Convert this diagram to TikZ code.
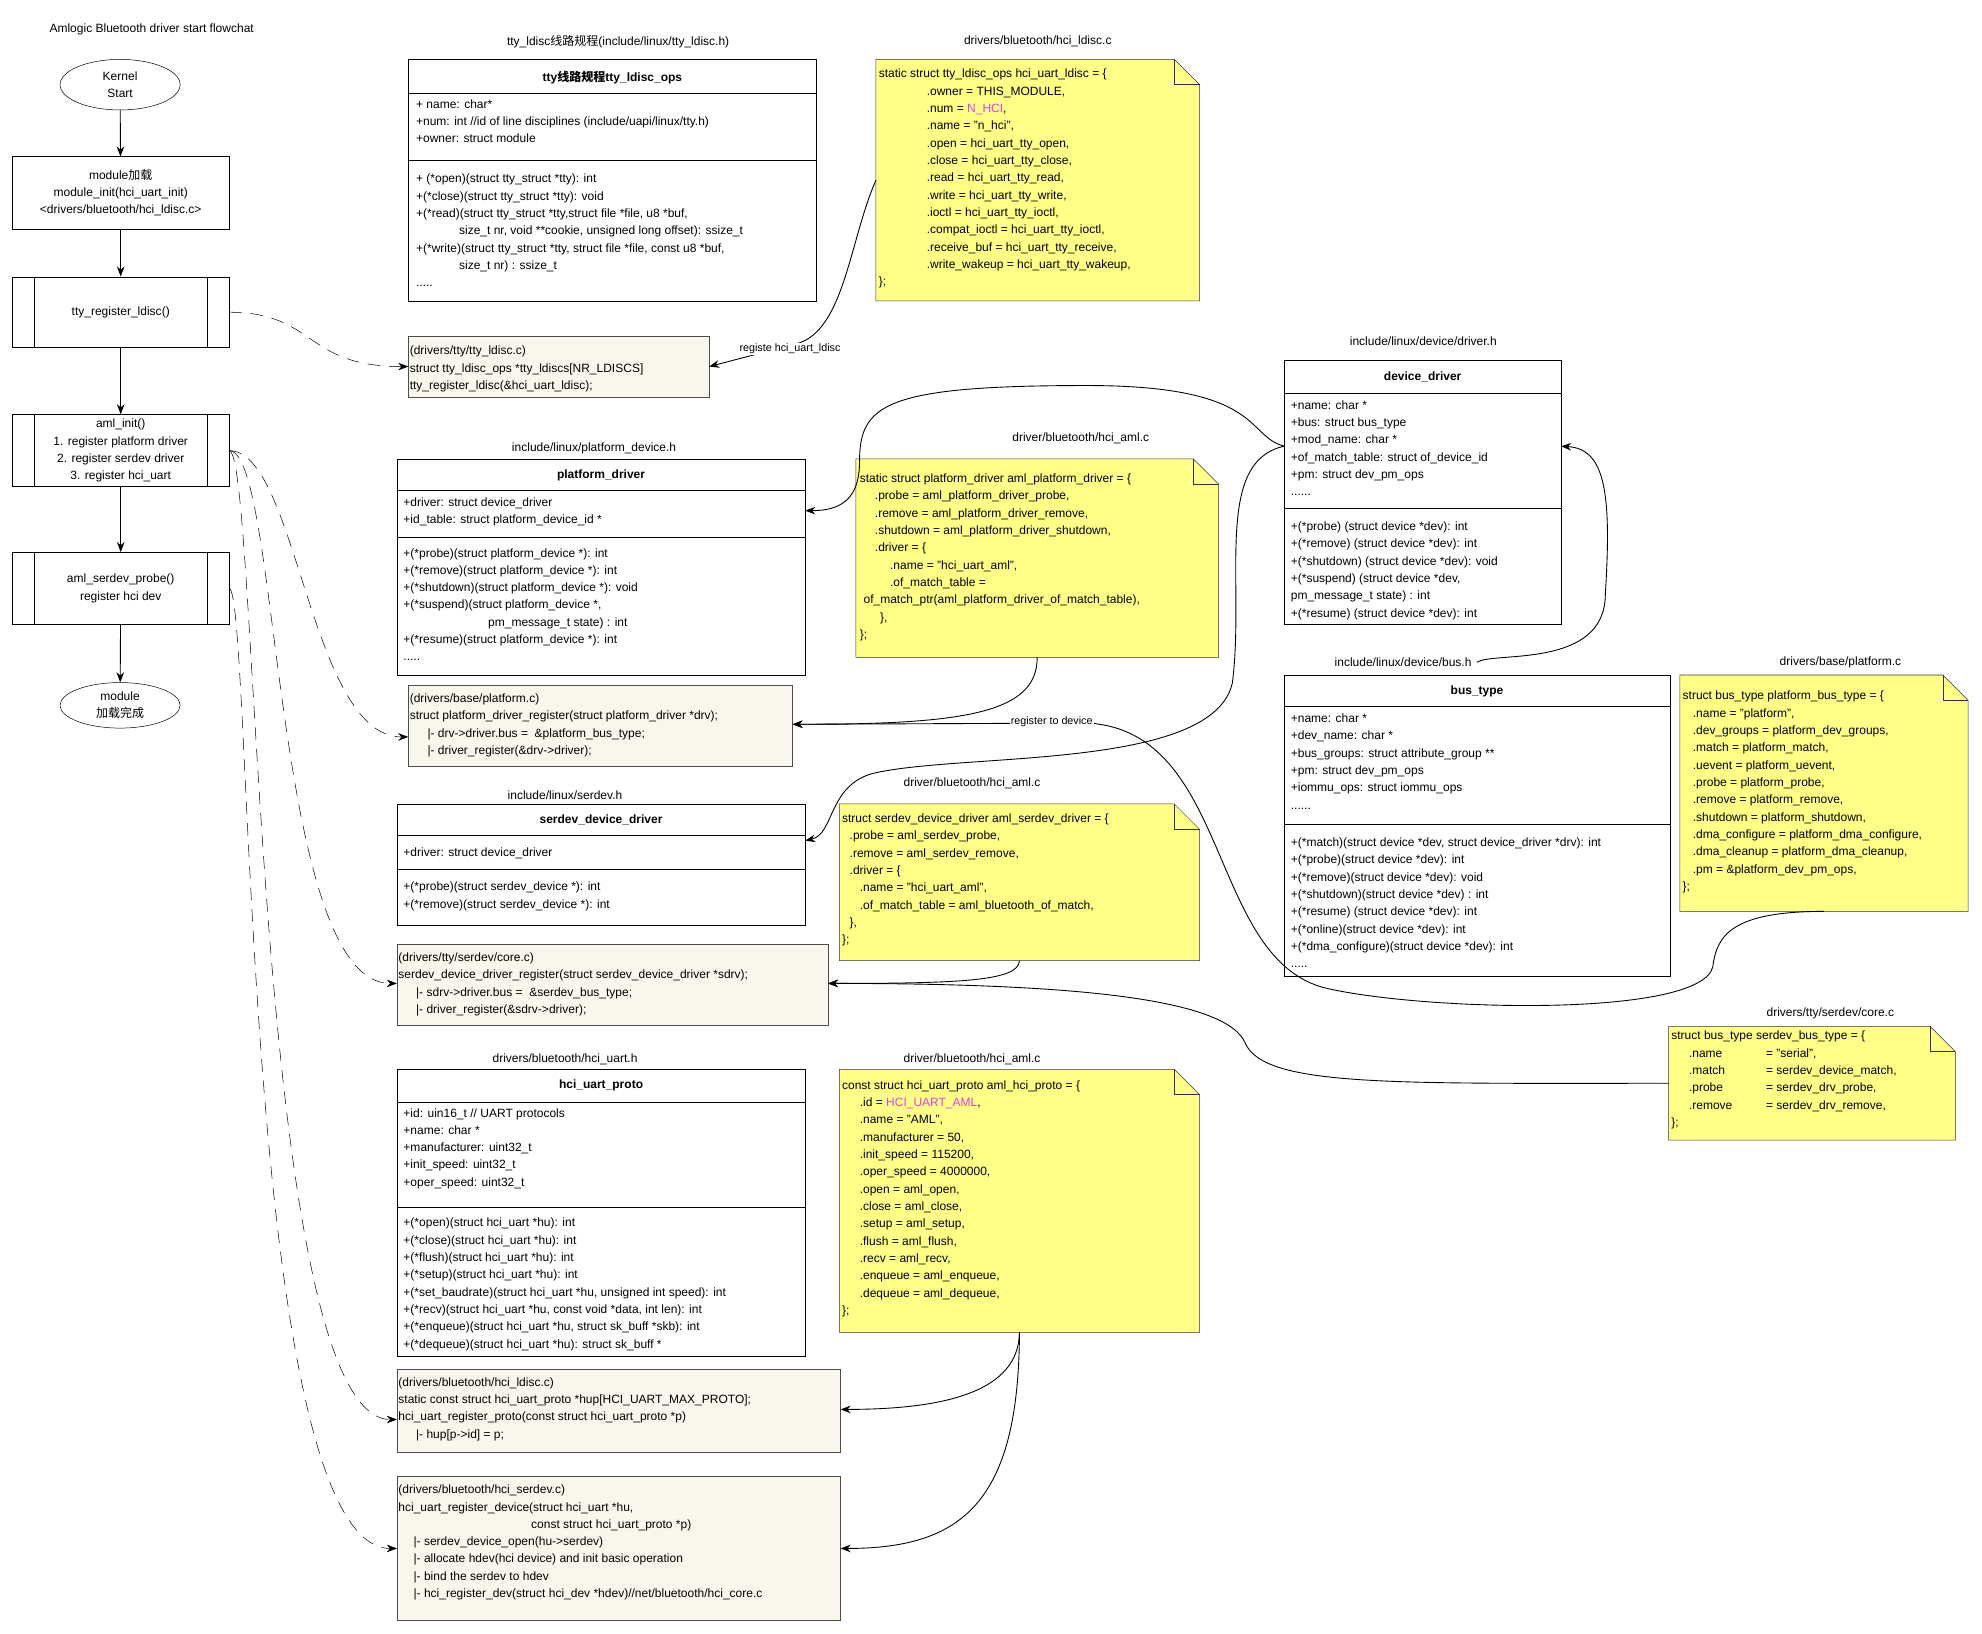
\documentclass[tikz,border=0pt]{standalone}
\usepackage{fontspec}
\setmainfont{Liberation Sans}
\newfontfamily\cjk{Noto Sans CJK SC}
\usetikzlibrary{shapes.geometric,arrows.meta}
\definecolor{notey}{HTML}{FFFF88}
\definecolor{beige}{HTML}{F9F7ED}
\definecolor{mag}{HTML}{E040E0}
\newcommand\ind[1]{\hspace*{#1pt}}
\newcommand\mkbox[6]{\node[#6, anchor=north west, outer sep=0pt, inner sep=0pt, minimum width={#4-#2}, minimum height={#5-#3}] (#1) at (#2,#3) {};}
\newcommand\mknote[5]{\mkbox{#1}{#2}{#3}{#4}{#5}{}%
  \draw[fill=notey, draw=black!80] (#2,#3) -- ({#4-20},#3) -- (#4,{#3+20}) -- (#4,#5) -- (#2,#5) -- cycle;
  \draw[draw=black!80] ({#4-20},#3) -- ({#4-20},{#3+20}) -- (#4,{#3+20});}
\begin{document}
\begin{tikzpicture}[x=1pt,y=-1pt,
  f/.style={font=\fontsize{9.5}{13.7}\selectfont},
  txt/.style={f, align=left, inner sep=0pt, anchor=north west, execute at begin node=\strut},
  lbl/.style={f, inner sep=0pt},
  hdr/.style={font=\fontsize{9.5}{13.7}\selectfont\bfseries, inner sep=0pt},
  wbox/.style={draw, fill=white},
  bbox/.style={draw=black!70, fill=beige},
  fc/.style={draw, f, align=center},
  arr/.style={-{Stealth[length=8pt,width=6pt]}},
  dsh/.style={arr, dash pattern=on 10pt off 7pt},
  con/.style={arr, line width=0.7pt}]
\useasboundingbox (0,0) rectangle (1568,1292);

% ---------- left flowchart ----------
\node[lbl] (title) at (120,23) {Amlogic Bluetooth driver start flowchat};
\node[fc, ellipse, minimum width=95pt, minimum height=40pt, inner sep=0pt] (ks) at (95,67) {Kernel\\Start};
\node[fc, minimum width=171pt, minimum height=57pt, inner sep=0pt] (mod) at (95.5,152.5) {module{\cjk 加载}\\module\_init(hci\_uart\_init)\\<drivers/bluetooth/hci\_ldisc.c>};
\node[fc, minimum width=171pt, minimum height=56pt, inner sep=0pt] (treg) at (95.5,247) {tty\_register\_ldisc()};
\node[fc, minimum width=171pt, minimum height=57pt, inner sep=0pt] (aini) at (95.5,356.5) {aml\_init()\\1. register platform driver\\2. register serdev driver\\3. register hci\_uart};
\node[fc, minimum width=171pt, minimum height=57pt, inner sep=0pt] (prb) at (95.5,465.5) {aml\_serdev\_probe()\\register hci dev};
\node[fc, ellipse, minimum width=95pt, minimum height=36pt, inner sep=0pt] (done) at (95,558) {module\\{\cjk 加载完成}};
\foreach \n in {treg,aini,prb}{
  \draw ([xshift=17pt]\n.north west) -- ([xshift=17pt]\n.south west);
  \draw ([xshift=-17pt]\n.north east) -- ([xshift=-17pt]\n.south east);}
\draw[con] (ks) -- (mod);
\draw[con] (mod) -- (treg);
\draw[con] (treg) -- (aini);
\draw[con] (aini) -- (prb);
\draw[con] (prb) -- (done);

% ---------- tty_ldisc_ops ----------
\node[lbl] (l1) at (489,33) {tty\_ldisc{\cjk 线路规程}(include/linux/tty\_ldisc.h)};
\mkbox{ttyops}{323}{47}{646}{238}{wbox}
\draw (323,74) -- (646,74); \draw (323,127) -- (646,127);
\node[hdr] (ttyopsh) at (484.5,61) {tty{\cjk 线路规程}tty\_ldisc\_ops};
\node[txt] (ttyopsa) at (329,78.6) {+ name: char*\\+num: int //id of line disciplines (include/uapi/linux/tty.h)\\+owner: struct module};
\node[txt] (ttyopso) at (329,137.6) {+ (*open)(struct tty\_struct *tty): int\\+(*close)(struct tty\_struct *tty): void\\+(*read)(struct tty\_struct *tty,struct file *file, u8 *buf,\\\ind{34}size\_t nr, void **cookie, unsigned long offset): ssize\_t\\+(*write)(struct tty\_struct *tty, struct file *file, const u8 *buf,\\\ind{34}size\_t nr) : ssize\_t\\.....};

% ---------- note hci_ldisc ----------
\node[lbl] (l2) at (821,33) {drivers/bluetooth/hci\_ldisc.c};
\mknote{n1}{693}{47}{949}{238}
\node[txt] (n1t) at (695,54.6) {static struct tty\_ldisc\_ops hci\_uart\_ldisc = \{\\\ind{38}.owner = THIS\_MODULE,\\\ind{38}.num = \textcolor{mag}{N\_HCI},\\\ind{38}.name = "n\_hci",\\\ind{38}.open = hci\_uart\_tty\_open,\\\ind{38}.close = hci\_uart\_tty\_close,\\\ind{38}.read = hci\_uart\_tty\_read,\\\ind{38}.write = hci\_uart\_tty\_write,\\\ind{38}.ioctl = hci\_uart\_tty\_ioctl,\\\ind{38}.compat\_ioctl = hci\_uart\_tty\_ioctl,\\\ind{38}.receive\_buf = hci\_uart\_tty\_receive,\\\ind{38}.write\_wakeup = hci\_uart\_tty\_wakeup,\\\};};

% ---------- tty_ldisc.c ----------
\mkbox{ttyc}{323}{266}{561}{314}{bbox}
\node[txt] (ttyct) at (324,273.6) {(drivers/tty/tty\_ldisc.c)\\struct tty\_ldisc\_ops *tty\_ldiscs[NR\_LDISCS]\\tty\_register\_ldisc(\&hci\_uart\_ldisc);};

% ---------- device_driver ----------
\node[lbl] (l3) at (1126,270) {include/linux/device/driver.h};
\mkbox{ddrv}{1016}{285}{1235}{494}{wbox}
\draw (1016,311) -- (1235,311); \draw (1016,402) -- (1235,402);
\node[hdr] (ddrvh) at (1125.5,298) {device\_driver};
\node[txt] (ddrva) at (1021,316.6) {+name: char *\\+bus: struct bus\_type\\+mod\_name: char *\\+of\_match\_table: struct of\_device\_id\\+pm: struct dev\_pm\_ops\\......};
\begin{scope}
\clip (1016,402) rectangle (1235,494);
\node[txt] (ddrvo) at (1021,412.6) {+(*probe) (struct device *dev): int\\+(*remove) (struct device *dev): int\\+(*shutdown) (struct device *dev): void\\+(*suspend) (struct device *dev,\\pm\_message\_t state) : int\\+(*resume) (struct device *dev): int};
\end{scope}
\draw (1016,285) rectangle (1235,494);

% ---------- platform_driver ----------
\node[lbl] (l4) at (470,355) {include/linux/platform\_device.h};
\mkbox{pdrv}{314}{363}{637}{534}{wbox}
\draw (314,388) -- (637,388); \draw (314,425) -- (637,425);
\node[hdr] (pdrvh) at (475.5,376) {platform\_driver};
\node[txt] (pdrva) at (319,393.6) {+driver: struct device\_driver\\+id\_table: struct platform\_device\_id *};
\node[txt] (pdrvo) at (319,433.6) {+(*probe)(struct platform\_device *): int\\+(*remove)(struct platform\_device *): int\\+(*shutdown)(struct platform\_device *): void\\+(*suspend)(struct platform\_device *,\\\ind{67}pm\_message\_t state) : int\\+(*resume)(struct platform\_device *): int\\.....};

% ---------- note aml platform ----------
\node[lbl] (l5) at (855,347) {driver/bluetooth/hci\_aml.c};
\mknote{n2}{677}{363}{964}{520}
\node[txt] (n2t) at (680,374.6) {static struct platform\_driver aml\_platform\_driver = \{\\\ind{12}.probe = aml\_platform\_driver\_probe,\\\ind{12}.remove = aml\_platform\_driver\_remove,\\\ind{12}.shutdown = aml\_platform\_driver\_shutdown,\\\ind{12}.driver = \{\\\ind{24}.name = "hci\_uart\_aml",\\\ind{24}.of\_match\_table =\\\ind{3}of\_match\_ptr(aml\_platform\_driver\_of\_match\_table),\\\ind{16}\},\\\};};

% ---------- platform.c ----------
\mkbox{pc}{323}{542}{627}{606}{bbox}
\node[txt] (pct) at (324,548.6) {(drivers/base/platform.c)\\struct platform\_driver\_register(struct platform\_driver *drv);\\\ind{14}|- drv->driver.bus = \ \&platform\_bus\_type;\\\ind{14}|- driver\_register(\&drv->driver);};

% ---------- bus_type ----------
\node[lbl] (l6) at (1110,524) {include/linux/device/bus.h};
\mkbox{bus}{1016}{534}{1321}{772}{wbox}
\draw (1016,559) -- (1321,559); \draw (1016,652) -- (1321,652);
\node[hdr] (bush) at (1168.5,547) {bus\_type};
\node[txt] (busa) at (1021,564.6) {+name: char *\\+dev\_name: char *\\+bus\_groups: struct attribute\_group **\\+pm: struct dev\_pm\_ops\\+iommu\_ops: struct iommu\_ops\\......};
\node[txt] (buso) at (1021,662.6) {+(*match)(struct device *dev, struct device\_driver *drv): int\\+(*probe)(struct device *dev): int\\+(*remove)(struct device *dev): void\\+(*shutdown)(struct device *dev) : int\\+(*resume) (struct device *dev): int\\+(*online)(struct device *dev): int\\+(*dma\_configure)(struct device *dev): int\\.....};

% ---------- note platform bus ----------
\node[lbl] (l7) at (1456,524) {drivers/base/platform.c};
\mknote{n5}{1329}{534}{1557}{721}
\node[txt] (n5t) at (1331,546.6) {struct bus\_type platform\_bus\_type = \{\\\ind{8}.name = "platform",\\\ind{8}.dev\_groups = platform\_dev\_groups,\\\ind{8}.match = platform\_match,\\\ind{8}.uevent = platform\_uevent,\\\ind{8}.probe = platform\_probe,\\\ind{8}.remove = platform\_remove,\\\ind{8}.shutdown = platform\_shutdown,\\\ind{8}.dma\_configure = platform\_dma\_configure,\\\ind{8}.dma\_cleanup = platform\_dma\_cleanup,\\\ind{8}.pm = \&platform\_dev\_pm\_ops,\\\};};

% ---------- serdev_device_driver ----------
\node[lbl] (l8) at (447,629) {include/linux/serdev.h};
\mkbox{sdrv}{314}{636}{637}{732}{wbox}
\draw (314,661) -- (637,661); \draw (314,688) -- (637,688);
\node[hdr] (sdrvh) at (475.5,649) {serdev\_device\_driver};
\node[txt] (sdrva) at (319,667.6) {+driver: struct device\_driver};
\node[txt] (sdrvo) at (319,697.6) {+(*probe)(struct serdev\_device *): int\\+(*remove)(struct serdev\_device *): int};

% ---------- note aml serdev ----------
\node[lbl] (l9) at (769,620) {driver/bluetooth/hci\_aml.c};
\mknote{n3}{664}{636}{949}{760}
\node[txt] (n3t) at (666,643.6) {struct serdev\_device\_driver aml\_serdev\_driver = \{\\\ind{6}.probe = aml\_serdev\_probe,\\\ind{6}.remove = aml\_serdev\_remove,\\\ind{6}.driver = \{\\\ind{14}.name = "hci\_uart\_aml",\\\ind{14}.of\_match\_table = aml\_bluetooth\_of\_match,\\\ind{6}\},\\\};};

% ---------- serdev core.c ----------
\mkbox{sc}{314}{747}{655}{811}{bbox}
\node[txt] (sct) at (315,753.6) {(drivers/tty/serdev/core.c)\\serdev\_device\_driver\_register(struct serdev\_device\_driver *sdrv);\\\ind{14}|- sdrv->driver.bus = \ \&serdev\_bus\_type;\\\ind{14}|- driver\_register(\&sdrv->driver);};

% ---------- note serdev bus ----------
\node[lbl] (l10) at (1448,802) {drivers/tty/serdev/core.c};
\mknote{n6}{1320}{812}{1547}{902}
\node[txt] (n6t) at (1322,815.6) {struct bus\_type serdev\_bus\_type = \{\\\ind{14}\makebox[61pt][l]{.name}= "serial",\\\ind{14}\makebox[61pt][l]{.match}= serdev\_device\_match,\\\ind{14}\makebox[61pt][l]{.probe}= serdev\_drv\_probe,\\\ind{14}\makebox[61pt][l]{.remove}= serdev\_drv\_remove,\\\};};

% ---------- hci_uart_proto ----------
\node[lbl] (l11) at (447,838) {drivers/bluetooth/hci\_uart.h};
\mkbox{hup}{314}{846}{637}{1073}{wbox}
\draw (314,872) -- (637,872); \draw (314,955) -- (637,955);
\node[hdr] (huph) at (475.5,859) {hci\_uart\_proto};
\node[txt] (hupa) at (319,876.6) {+id: uin16\_t // UART protocols\\+name: char *\\+manufacturer: uint32\_t\\+init\_speed: uint32\_t\\+oper\_speed: uint32\_t};
\node[txt] (hupo) at (319,963.6) {+(*open)(struct hci\_uart *hu): int\\+(*close)(struct hci\_uart *hu): int\\+(*flush)(struct hci\_uart *hu): int\\+(*setup)(struct hci\_uart *hu): int\\+(*set\_baudrate)(struct hci\_uart *hu, unsigned int speed): int\\+(*recv)(struct hci\_uart *hu, const void *data, int len): int\\+(*enqueue)(struct hci\_uart *hu, struct sk\_buff *skb): int\\+(*dequeue)(struct hci\_uart *hu): struct sk\_buff *};

% ---------- note aml proto ----------
\node[lbl] (l12) at (769,838) {driver/bluetooth/hci\_aml.c};
\mknote{n4}{664}{846}{949}{1054}
\node[txt] (n4t) at (666,854.6) {const struct hci\_uart\_proto aml\_hci\_proto = \{\\\ind{14}.id = \textcolor{mag}{HCI\_UART\_AML},\\\ind{14}.name = "AML",\\\ind{14}.manufacturer = 50,\\\ind{14}.init\_speed = 115200,\\\ind{14}.oper\_speed = 4000000,\\\ind{14}.open = aml\_open,\\\ind{14}.close = aml\_close,\\\ind{14}.setup = aml\_setup,\\\ind{14}.flush = aml\_flush,\\\ind{14}.recv = aml\_recv,\\\ind{14}.enqueue = aml\_enqueue,\\\ind{14}.dequeue = aml\_dequeue,\\\};};

% ---------- hci_ldisc.c ----------
\mkbox{hl}{314}{1083}{665}{1149}{bbox}
\node[txt] (hlt) at (315,1089.6) {(drivers/bluetooth/hci\_ldisc.c)\\static const struct hci\_uart\_proto *hup[HCI\_UART\_MAX\_PROTO];\\hci\_uart\_register\_proto(const struct hci\_uart\_proto *p)\\\ind{14}|- hup[p->id] = p;};

% ---------- hci_serdev.c ----------
\mkbox{hs}{314}{1168}{665}{1282}{bbox}
\node[txt] (hst) at (315,1174.6) {(drivers/bluetooth/hci\_serdev.c)\\hci\_uart\_register\_device(struct hci\_uart *hu,\\\ind{105}const struct hci\_uart\_proto *p)\\\ind{12}|- serdev\_device\_open(hu->serdev)\\\ind{12}|- allocate hdev(hci device) and init basic operation\\\ind{12}|- bind the serdev to hdev\\\ind{12}|- hci\_register\_dev(struct hci\_dev *hdev)//net/bluetooth/hci\_core.c};

% ---------- solid connectors ----------
\draw[con] (n1.west) .. controls (672,190) and (668,262) .. (630,272) -- (ttyc.east);
\node[lbl, font=\fontsize{8.5}{10}\selectfont, fill=white, inner sep=1pt] (rl) at (625,276) {registe hci\_uart\_ldisc};
\draw[con] (ddrv.west |- 0,353) .. controls (985,345) and (1000,305) .. (860,305) .. controls (700,305) and (680,320) .. (680,365) .. controls (680,395) and (665,404) .. (pdrv.east |- 0,404);
\draw[con] (ddrv.west |- 0,353) .. controls (960,365) and (985,460) .. (975,540) .. controls (960,610) and (760,595) .. (690,612) .. controls (655,622) and (660,660) .. (sdrv.east |- 0,665);
\draw[con] (bus.north |- 0,524) .. controls (1180,515) and (1270,530) .. (1270,470) .. controls (1275,390) and (1270,355) .. (ddrv.east |- 0,353);
\draw[con] (n2.south |- 0,520) .. controls (821,565) and (760,573) .. (pc.east |- 0,573);
\draw[con] (n5.south) .. controls (1370,721) and (1358,740) .. (1355,765) .. controls (1345,805) and (1130,800) .. (1050,782) .. controls (955,760) and (975,578) .. (860,572) -- (pc.east |- 0,573);
\node[lbl, font=\fontsize{8.5}{10}\selectfont, fill=white, inner sep=1pt] (rd) at (832,571) {register to device};
\draw[con] (n3.south |- 0,760) .. controls (806,776) and (760,778) .. (sc.east |- 0,778);
\draw[con] (n6.west) .. controls (1100,857) and (1000,860) .. (985,825) .. controls (970,790) and (850,778) .. (sc.east |- 0,778);
\draw[con] (n4.south |- 0,1054) .. controls (806,1100) and (750,1115) .. (hl.east |- 0,1115);
\draw[con] (n4.south |- 0,1054) .. controls (806,1190) and (760,1225) .. (hs.east |- 0,1225);

% ---------- dashed connectors ----------
\draw[dsh] (treg.east) .. controls (250,247) and (240,290) .. (ttyc.west |- 0,290);
\draw[dsh] (aini.east) .. controls (235,356) and (245,583) .. (pc.west |- 0,583);
\draw[dsh] (aini.east) .. controls (222,356) and (215,778) .. (sc.west |- 0,778);
\draw[dsh] (aini.east) .. controls (205,356) and (200,1123) .. (hl.west |- 0,1123);
\draw[dsh] (prb.east) .. controls (200,465) and (190,1225) .. (hs.west |- 0,1225);
\end{tikzpicture}
\end{document}
